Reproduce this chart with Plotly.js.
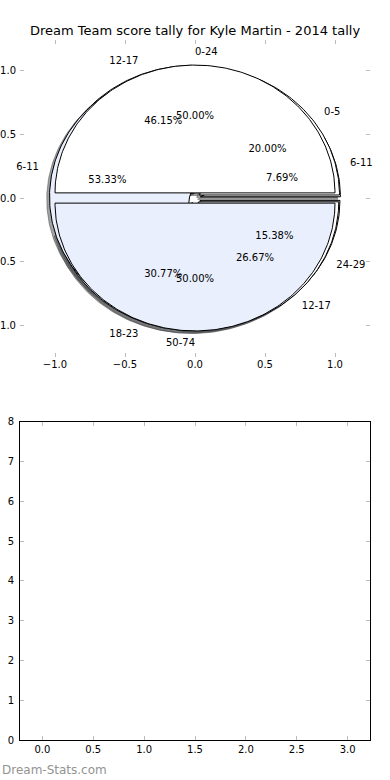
<!DOCTYPE html>
<html><head><meta charset="utf-8">
<script src="https://cdn.plot.ly/plotly-3.0.1.min.js"></script>
<style>html,body{margin:0;padding:0;background:#fff}#chart{width:390px;height:780px}</style>
</head><body><div id="chart"></div>
<script>
const chartTitle = 'Dream Team score tally for Kyle Martin - 2014 tally';
const watermark = 'Dream-Stats.com';
// three overlaid pies, drawn in this order
const pieALabels = ['6-11', '12-17', '18-23', '24-29'];
const pieAValues = [1, 6, 4, 2];
const pieBLabels = ['0-5', '6-11', '12-17'];
const pieBValues = [3, 8, 4];
const pieCLabels = ['0-24', '50-74'];
const pieCValues = [1, 1];
const sliceColors = ['#ffffff', '#e9effc'];
const pieTickVals = [-1, -0.5, 0, 0.5, 1];
const pieTickText = ['\u22121.0', '\u22120.5', '0.0', '0.5', '1.0'];
const emptyTickValsX = [0, 0.5, 1, 1.5, 2, 2.5, 3];
const emptyTickTextX = ['0.0', '0.5', '1.0', '1.5', '2.0', '2.5', '3.0'];
const emptyTickValsY = [0, 1, 2, 3, 4, 5, 6, 7, 8];

const EXPLODE = 0.04, LABEL_D = 1.1, PCT_D = 0.6, SHX = -0.02, SHY = -0.02;
const FONT = 'DejaVu Sans, Verdana, sans-serif';

function hexRgb(h){ return [parseInt(h.slice(1,3),16), parseInt(h.slice(3,5),16), parseInt(h.slice(5,7),16)]; }

function buildWedges(labels, values){
  const total = values.reduce((a,b)=>a+b,0);
  let cum = 0; const out = [];
  values.forEach((v,i)=>{
    const t1 = 360*cum/total, t2 = 360*(cum+v)/total; cum += v;
    const tm = (t1+t2)/2*Math.PI/180;
    const cx = EXPLODE*Math.cos(tm), cy = EXPLODE*Math.sin(tm);
    const xs=[cx], ys=[cy];
    const n = Math.max(2, Math.ceil(t2-t1));
    for(let k=0;k<=n;k++){ const a=(t1+(t2-t1)*k/n)*Math.PI/180; xs.push(cx+Math.cos(a)); ys.push(cy+Math.sin(a)); }
    xs.push(cx); ys.push(cy);
    out.push({xs, ys, cx, cy, tm, label: labels[i], pct: (100*v/total).toFixed(2)+'%', color: sliceColors[i % sliceColors.length]});
  });
  return out;
}

const pies = [buildWedges(pieALabels, pieAValues), buildWedges(pieBLabels, pieBValues), buildWedges(pieCLabels, pieCValues)];
const traces = [];
// shadows first (below all wedges)
pies.forEach(p=>p.forEach(w=>{
  const c = hexRgb(w.color).map(v=>Math.round(v*0.3));
  const col = `rgba(${c[0]},${c[1]},${c[2]},0.5)`;
  traces.push({type:'scatter', mode:'lines', x:w.xs.map(v=>v+SHX), y:w.ys.map(v=>v+SHY), fill:'toself', fillcolor:col,
    line:{color:col, width:1}, hoverinfo:'skip', showlegend:false, xaxis:'x', yaxis:'y'});
}));
pies.forEach(p=>p.forEach(w=>{
  traces.push({type:'scatter', mode:'lines', x:w.xs, y:w.ys, fill:'toself', fillcolor:w.color,
    line:{color:'#000000', width:1}, hoverinfo:'skip', showlegend:false, xaxis:'x', yaxis:'y'});
}));
// labels and percentages
pies.forEach(p=>{
  const lx=[], ly=[], lt=[], lp=[], px=[], py=[], pt=[];
  p.forEach(w=>{
    const x = w.cx + LABEL_D*Math.cos(w.tm), y = w.cy + LABEL_D*Math.sin(w.tm);
    lx.push(x); ly.push(y); lt.push(w.label); lp.push(x>0 ? 'middle right' : 'middle left');
    px.push(w.cx + PCT_D*Math.cos(w.tm)); py.push(w.cy + PCT_D*Math.sin(w.tm)); pt.push(w.pct);
  });
  traces.push({type:'scatter', mode:'text', x:lx, y:ly, text:lt, textposition:lp, cliponaxis:false,
    textfont:{family:FONT, size:10, color:'#000'}, hoverinfo:'skip', showlegend:false, xaxis:'x', yaxis:'y'});
  traces.push({type:'scatter', mode:'text', x:px, y:py, text:pt, textposition:'middle center', cliponaxis:false,
    textfont:{family:FONT, size:10, color:'#000'}, hoverinfo:'skip', showlegend:false, xaxis:'x', yaxis:'y'});
});
// empty second panel
traces.push({type:'scatter', mode:'markers', x:[], y:[], xaxis:'x2', yaxis:'y2', showlegend:false, hoverinfo:'skip'});

const H = 780, W = 390;
const tickCommon = {ticks:'inside', ticklen:4, tickwidth:1, tickcolor:'#bbbbbb', showgrid:false, zeroline:false,
  tickfont:{family:FONT, size:10, color:'#000'}, fixedrange:true};
const layout = {
  width:W, height:H, margin:{l:0, r:0, t:0, b:0}, paper_bgcolor:'#fff', plot_bgcolor:'#fff', showlegend:false,
  title:{text:chartTitle, font:{family:FONT, size:13, color:'#000'}, x:0.5, xanchor:'center', xref:'paper', y:1-30/H, yanchor:'middle', yref:'paper'},
  xaxis:Object.assign({}, tickCommon, {domain:[20/W, 370/W], range:[-1.25, 1.25], tickvals:pieTickVals, ticktext:pieTickText, showline:false, mirror:'ticks', anchor:'y'}),
  yaxis:Object.assign({}, tickCommon, {domain:[1-356.5/H, 1-39.5/H], range:[-1.24, 1.24], tickvals:pieTickVals, ticktext:pieTickText, showline:false, mirror:'ticks', anchor:'x', ticklabelstandoff:3}),
  xaxis2:Object.assign({}, tickCommon, {domain:[20/W, 370/W], range:[-0.22, 3.22], tickvals:emptyTickValsX, ticktext:emptyTickTextX, showline:true, linecolor:'#000', linewidth:1, mirror:'allticks', anchor:'y2'}),
  yaxis2:Object.assign({}, tickCommon, {domain:[1-740.3/H, 1-421.5/H], range:[0, 8], tickvals:emptyTickValsY, showline:true, linecolor:'#000', linewidth:1, mirror:'allticks', anchor:'x2', ticklabelstandoff:3}),
  annotations:[{text:watermark, xref:'paper', yref:'paper', x:0, y:1-770/H, xanchor:'left', yanchor:'middle', showarrow:false,
    font:{family:FONT, size:12, color:'#939393'}}]
};
Plotly.newPlot('chart', traces, layout, {staticPlot:true, displayModeBar:false});
</script></body></html>
